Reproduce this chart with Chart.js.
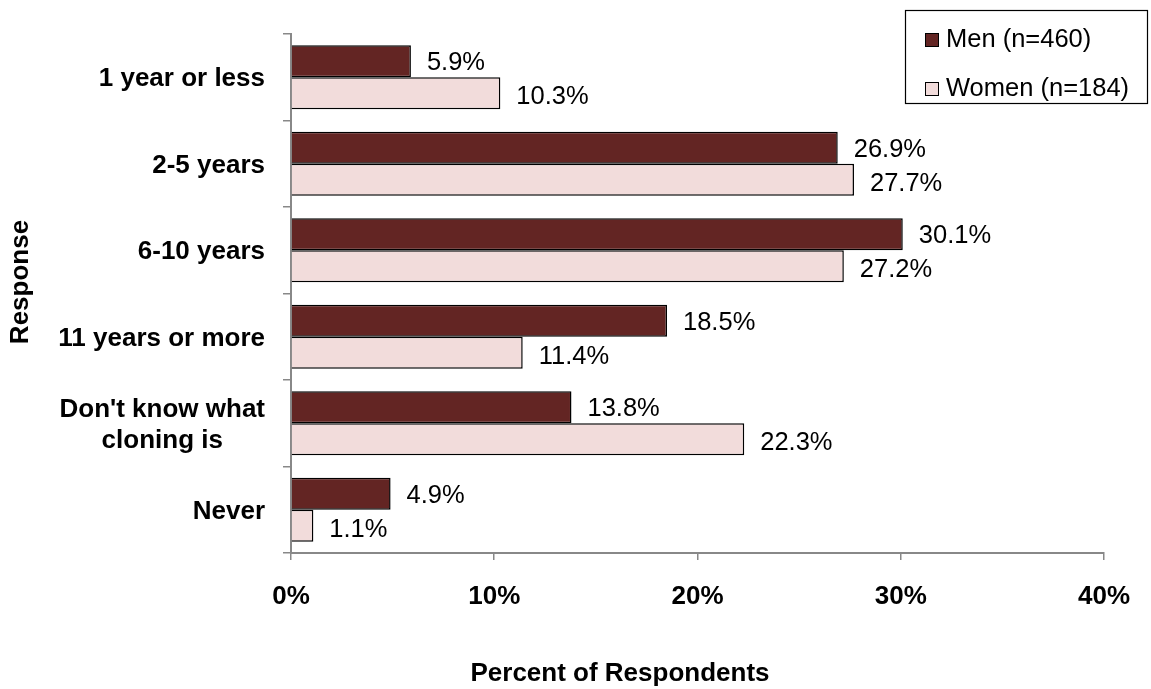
<!DOCTYPE html>
<html><head><meta charset="utf-8">
<script src="https://cdn.jsdelivr.net/npm/chart.js@4/dist/chart.umd.min.js"></script>
<style>html,body{margin:0;padding:0;background:#fff}#wrap{width:1151px;height:689px;position:relative}</style>
</head><body><div id="wrap"><canvas id="c" width="1151" height="689"></canvas></div>
<script>
const categories = ["1 year or less", "2-5 years", "6-10 years", "11 years or more", ["Don't know what", "cloning is"], "Never"];
const menValues = [5.9, 26.9, 30.1, 18.5, 13.8, 4.9];
const womenValues = [10.3, 27.7, 27.2, 11.4, 22.3, 1.1];
const seriesNames = ["Men (n=460)", "Women (n=184)"];
const xTickValues = [0, 10, 20, 30, 40];
const xTitle = "Percent of Respondents";
const yTitle = "Response";

const FONT = '"Liberation Sans", Arial, sans-serif';
const colors = ['#632523', '#F2DCDB'];

const customPlugin = {
  id: 'customDraw',
  afterDraw(chart) {
    const ctx = chart.ctx;
    const ys = chart.scales.y;
    ctx.save();
    // category labels
    ctx.font = 'bold 26px ' + FONT;
    ctx.fillStyle = '#000';
    ctx.textBaseline = 'middle';
    ctx.textAlign = 'center';
    categories.forEach((lab, i) => {
      const lines = Array.isArray(lab) ? lab : [lab];
      const w = Math.max(...lines.map(l => ctx.measureText(l).width));
      const cx = ys.right - 26 - w / 2;
      const cy = ys.getPixelForValue(i) + 2;
      const lh = 31;
      lines.forEach((l, j) => ctx.fillText(l, cx, cy + (j - (lines.length - 1) / 2) * lh));
    });
    // axis titles
    ctx.textAlign = 'center';
    ctx.fillText(xTitle, 620, 674);
    ctx.save();
    ctx.translate(21, 282);
    ctx.rotate(-Math.PI / 2);
    ctx.fillText(yTitle, 0, 0);
    ctx.restore();
    // data labels
    ctx.font = '25.5px ' + FONT;
    ctx.textAlign = 'left';
    chart.data.datasets.forEach((ds, di) => {
      const meta = chart.getDatasetMeta(di);
      meta.data.forEach((bar, i) => {
        ctx.fillText(ds.data[i].toFixed(1) + '%', bar.x + 16, bar.y + (di ? 4 : 2));
      });
    });
    // legend
    ctx.strokeStyle = '#000';
    ctx.lineWidth = 1.2;
    ctx.fillStyle = '#fff';
    ctx.fillRect(905, 10, 243, 94);
    ctx.strokeRect(905.5, 10.5, 242, 93);
    const rowY = [40, 89];
    chart.data.datasets.forEach((ds, di) => {
      ctx.fillStyle = ds.backgroundColor;
      ctx.fillRect(925, rowY[di] - 7, 14, 14);
      ctx.lineWidth = 1;
      ctx.strokeRect(925.5, rowY[di] - 6.5, 13, 13);
      ctx.fillStyle = '#000';
      ctx.textAlign = 'left';
      ctx.fillText(ds.label, 946, rowY[di]);
    });
    ctx.restore();
  }
};

new Chart(document.getElementById('c'), {
  type: 'bar',
  data: {
    labels: categories,
    datasets: [
      { label: seriesNames[0], data: menValues, backgroundColor: colors[0], borderColor: '#000', borderWidth: 1.5, categoryPercentage: 0.74, barPercentage: 1.0 },
      { label: seriesNames[1], data: womenValues, backgroundColor: colors[1], borderColor: '#000', borderWidth: 1.5, categoryPercentage: 0.74, barPercentage: 1.0 }
    ]
  },
  options: {
    indexAxis: 'y',
    responsive: false,
    animation: false,
    devicePixelRatio: 1,
    layout: { padding: { top: 34, right: 46, left: 0, bottom: 0 } },
    plugins: { legend: { display: false }, tooltip: { enabled: false } },
    scales: {
      x: {
        type: 'linear', min: 0, max: 40,
        afterBuildTicks: s => { s.ticks = xTickValues.map(v => ({ value: v })); },
        afterFit: s => { s.height = 136; },
        grid: { drawOnChartArea: false, drawTicks: true, tickLength: 7, color: '#888', lineWidth: 1.5 },
        border: { display: true, color: '#888', width: 2 },
        ticks: { padding: 21, color: '#000', font: { family: FONT, size: 26, weight: 'bold' }, callback: v => v + '%', maxRotation: 0 },
        title: { display: false, text: xTitle }
      },
      y: {
        type: 'category', offset: true,
        afterFit: s => { s.width = 291; },
        grid: { offset: true, drawOnChartArea: false, drawTicks: true, tickLength: 8, color: '#888', lineWidth: 1.5 },
        border: { display: true, color: '#888', width: 2 },
        ticks: { display: false },
        title: { display: false, text: yTitle }
      }
    }
  },
  plugins: [customPlugin]
});
</script>
</body></html>
